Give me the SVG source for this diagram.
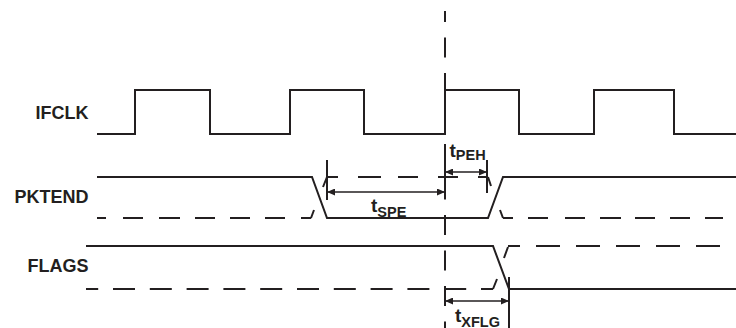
<svg xmlns="http://www.w3.org/2000/svg" width="736" height="328" viewBox="0 0 736 328">
<defs>
<marker id="ah" markerUnits="userSpaceOnUse" markerWidth="9" markerHeight="7" refX="8" refY="3.5" orient="auto-start-reverse"><path d="M0,0 L8,3.5 L0,7 z" fill="#231f20"/></marker>
<style>
.s{fill:none;stroke:#231f20;stroke-width:2}
.a{fill:none;stroke:#231f20;stroke-width:1.6;marker-start:url(#ah);marker-end:url(#ah)}
.lbl{font-family:"Liberation Sans",Arial,sans-serif;font-weight:bold;font-size:18px;fill:#231f20}
.t{font-family:"Liberation Sans",Arial,sans-serif;font-weight:bold;font-size:19px;fill:#231f20}
.sub{font-size:14.5px}
</style>
</defs>
<rect width="736" height="328" fill="#fff"/>
<g id="labels">
<text class="lbl" x="88.5" y="119" text-anchor="end">IFCLK</text>
<text class="lbl" x="88.5" y="203" text-anchor="end">PKTEND</text>
<text class="lbl" x="88.5" y="272" text-anchor="end">FLAGS</text>
</g>
<g id="IFCLK">
<path class="s" d="M97 134H135V90H210V134H290V90H364V134H445V90H519V134H594V90H674V134H736"/>
</g>
<g id="PKTEND">
<path class="s" d="M97 177H312L327 218H488L503 177H736"/>
<path class="s" d="M97 218H106M123 218H143M159 218H180M195 218H215M230 218H250M265 218H285M301 218H311M311 218L314 210M323 187L327 177"/>
<path class="s" d="M328 177H338M358 177H381M398 177H418M438 177H458M478 177H488M488 177L491 186M500 210L503 218"/>
<path class="s" d="M503 218H513M528 218H548M565 218H585M600 218H621M635 218H655M670 218H690M705 218H723"/>
</g>
<g id="FLAGS">
<path class="s" d="M86 246H493L509 289H736"/>
<line class="s" x1="86" y1="289" x2="493" y2="289" stroke-dasharray="22 14.8" stroke-dashoffset="9.8"/>
<path class="s" d="M493 289L497 279M504 258L508 247"/>
<line class="s" x1="508" y1="246" x2="720" y2="246" stroke-dasharray="24 16" stroke-dashoffset="12"/>
</g>
<g id="connectors">
<line class="s" x1="445" y1="11" x2="445" y2="328" stroke-dasharray="20 15.5" stroke-dashoffset="9"/>
<path class="s" d="M445 158V184M327 160V200M487 160V193M509 277V328"/>
<line class="a" x1="327" y1="192" x2="445" y2="192"/>
<line class="a" x1="445" y1="172" x2="487" y2="172"/>
<line class="a" x1="445" y1="301" x2="509" y2="301"/>
</g>
<g id="timing-labels">
<text class="t" x="449.5" y="157">t<tspan class="sub" dy="3">PEH</tspan></text>
<text class="t" x="371" y="212">t<tspan class="sub" dy="4.5">SPE</tspan></text>
<text class="t" x="455" y="321.5">t<tspan class="sub" dy="5">XFLG</tspan></text>
</g>
</svg>
